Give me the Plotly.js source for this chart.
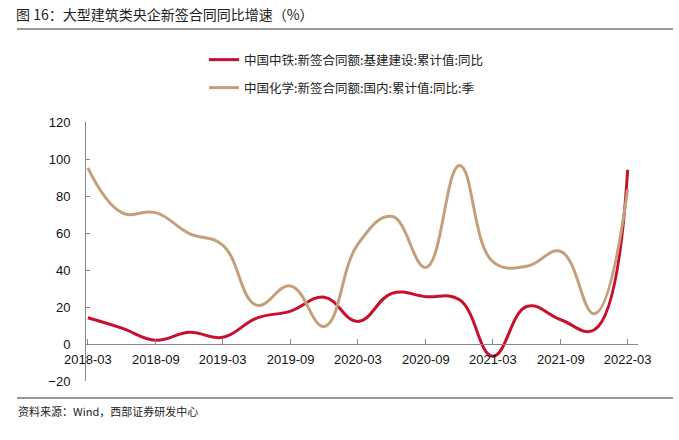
<!DOCTYPE html>
<html>
<head>
<meta charset="utf-8">
<script src="https://cdn.plot.ly/plotly-3.0.1.min.js"></script>
<style>html,body{margin:0;padding:0;background:#fff;}#chart{width:679px;height:440px;}</style>
</head>
<body>
<div id="chart"></div>
<script>
const quarters = ["2018-03","2018-06","2018-09","2018-12","2019-03","2019-06","2019-09","2019-12","2020-03","2020-06","2020-09","2020-12","2021-03","2021-06","2021-09","2021-12","2022-03"];
const crecValues = [14.2, 8.6, 2.0, 6.3, 3.6, 14.0, 17.8, 25.3, 12.2, 27.4, 25.6, 23.9, -6.6, 20.3, 13.1, 7.7, 94.2];
const cncValues  = [95.2, 71.0, 71.0, 59.7, 53.5, 21.0, 31.4, 9.5, 54.0, 69.0, 41.4, 96.5, 44.5, 42.0, 50.0, 16.3, 83.6];
const seriesNames = ["中国中铁:新签合同额:基建建设:累计值:同比", "中国化学:新签合同额:国内:累计值:同比:季"];
const chartTitle = "图 16：大型建筑类央企新签合同同比增速（%）";
const sourceText = "资料来源：Wind，西部证券研发中心";

const cjk = '"Noto Sans CJK SC", "Noto Sans", sans-serif';
const arial = '"Liberation Sans", Arial, sans-serif';

const traces = [
  {x: quarters, y: crecValues, name: seriesNames[0], type: 'scatter', mode: 'lines',
   line: {color: '#C8102E', width: 3, shape: 'spline', smoothing: 1.2}, legend: 'legend'},
  {x: quarters, y: cncValues, name: seriesNames[1], type: 'scatter', mode: 'lines',
   line: {color: '#C4A07A', width: 3, shape: 'spline', smoothing: 1.2}, legend: 'legend2'}
];

const L = 86, R = 638, T = 122, B = 381;
const W = 679, H = 440;
const px = v => (v - L) / (R - L);
const py = v => (B - v) / (B - T);

const layout = {
  width: W, height: H,
  margin: {l: L, r: W - R, t: T, b: H - B, pad: 0, autoexpand: false},
  paper_bgcolor: '#fff', plot_bgcolor: '#fff',
  showlegend: true,
  title: {text: chartTitle, x: 16 / W, xanchor: 'left', xref: 'container',
          y: 1 - 15 / H, yanchor: 'middle', yref: 'container',
          font: {family: cjk, size: 14, color: '#222'}},
  xaxis: {type: 'date', range: ['2018-02-24', '2022-03-29'],
          tick0: '2018-03-01', dtick: 'M6', tickformat: '%Y-%m', tickangle: 0,
          anchor: 'free', position: 20 / 140, automargin: false,
          showline: true, linecolor: '#888', linewidth: 1,
          ticks: 'inside', ticklen: 5, tickcolor: '#888',
          showgrid: false, zeroline: false,
          tickfont: {family: arial, size: 13, color: '#111'}, ticklabelstandoff: 3},
  yaxis: {range: [-20, 120], dtick: 20, tick0: 0, automargin: false,
          showline: true, linecolor: '#888', linewidth: 1,
          ticks: 'inside', ticklen: 4, tickcolor: '#888',
          showgrid: false, zeroline: false,
          tickfont: {family: arial, size: 13, color: '#111'}, ticklabelstandoff: 12},
  legend: {x: 204 / W, y: 1 - 60 / H, xref: 'container', yref: 'container',
           xanchor: 'left', yanchor: 'middle', bgcolor: 'rgba(0,0,0,0)',
           font: {family: cjk, size: 12.5, color: '#222'}},
  legend2: {x: 204 / W, y: 1 - 88 / H, xref: 'container', yref: 'container',
            xanchor: 'left', yanchor: 'middle', bgcolor: 'rgba(0,0,0,0)',
            font: {family: cjk, size: 12.5, color: '#222'}},
  shapes: [
    {type: 'line', xref: 'paper', yref: 'paper', x0: px(17), x1: px(673), y0: py(29), y1: py(29),
     line: {color: '#777', width: 1.5}},
    {type: 'line', xref: 'paper', yref: 'paper', x0: px(17), x1: px(673), y0: py(398), y1: py(398),
     line: {color: '#777', width: 1.5}}
  ],
  annotations: [
    {text: sourceText, xref: 'paper', yref: 'paper', x: px(16), y: py(411),
     xanchor: 'left', yanchor: 'middle', showarrow: false,
     font: {family: cjk, size: 11, color: '#222'}}
  ]
};

Plotly.newPlot('chart', traces, layout, {displayModeBar: false, staticPlot: true});
</script>
</body>
</html>
